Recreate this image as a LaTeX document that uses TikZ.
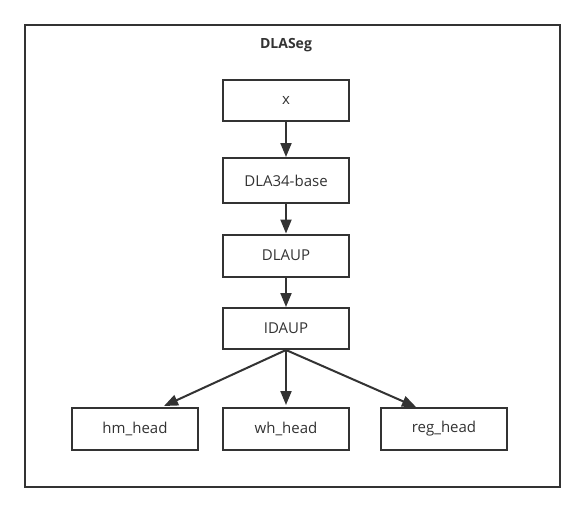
\documentclass[tikz,border=0pt]{standalone}
\usepackage{fontspec}
\setmainfont{Open Sans}
\usetikzlibrary{arrows.meta}
\definecolor{ink}{HTML}{333333}
\tikzset{
  box/.style={draw=ink, line width=2pt, minimum width=126pt, inner sep=0pt, text=ink, font=\fontsize{15}{17}\selectfont, fill=white},
  conn/.style={draw=ink, line width=2pt, -{Triangle[length=14pt,width=11pt]}}
}
\begin{document}
\begin{tikzpicture}[x=1pt,y=-1pt]
\useasboundingbox (0,0) rectangle (585,512);
\fill[white] (0,0) rectangle (585,512);
\node[draw=ink, line width=2pt, minimum width=535pt, minimum height=462pt, inner sep=0pt] (outer) at (292.5,256) {};
\node[text=ink, font=\bfseries\fontsize{14}{16}\selectfont] (title) at (286,45) {DLASeg};
\node[box, minimum height=41pt] (x) at (286,100.5) {x};
\node[box, minimum height=45pt] (base) at (286,180.5) {DLA34-base};
\node[box, minimum height=42pt] (dlaup) at (286,255.5) {DLAUP};
\node[box, minimum height=41pt] (idaup) at (286,328.5) {IDAUP};
\node[box, minimum height=42pt] (hm) at (135,429) {hm\_head};
\node[box, minimum height=42pt] (wh) at (286,429) {wh\_head};
\node[box, minimum height=42pt] (reg) at (444,429) {reg\_head};
\coordinate (hmtip) at (164,406);
\coordinate (regtip) at (416,407);
\draw[conn] (x.south) -- (base.north);
\draw[conn] (base.south) -- (dlaup.north);
\draw[conn] (dlaup.south) -- (idaup.north);
\draw[conn] (idaup.south) -- (hmtip);
\draw[conn] (idaup.south) -- ([yshift=2pt]wh.north);
\draw[conn] (idaup.south) -- (regtip);
\end{tikzpicture}
\end{document}
